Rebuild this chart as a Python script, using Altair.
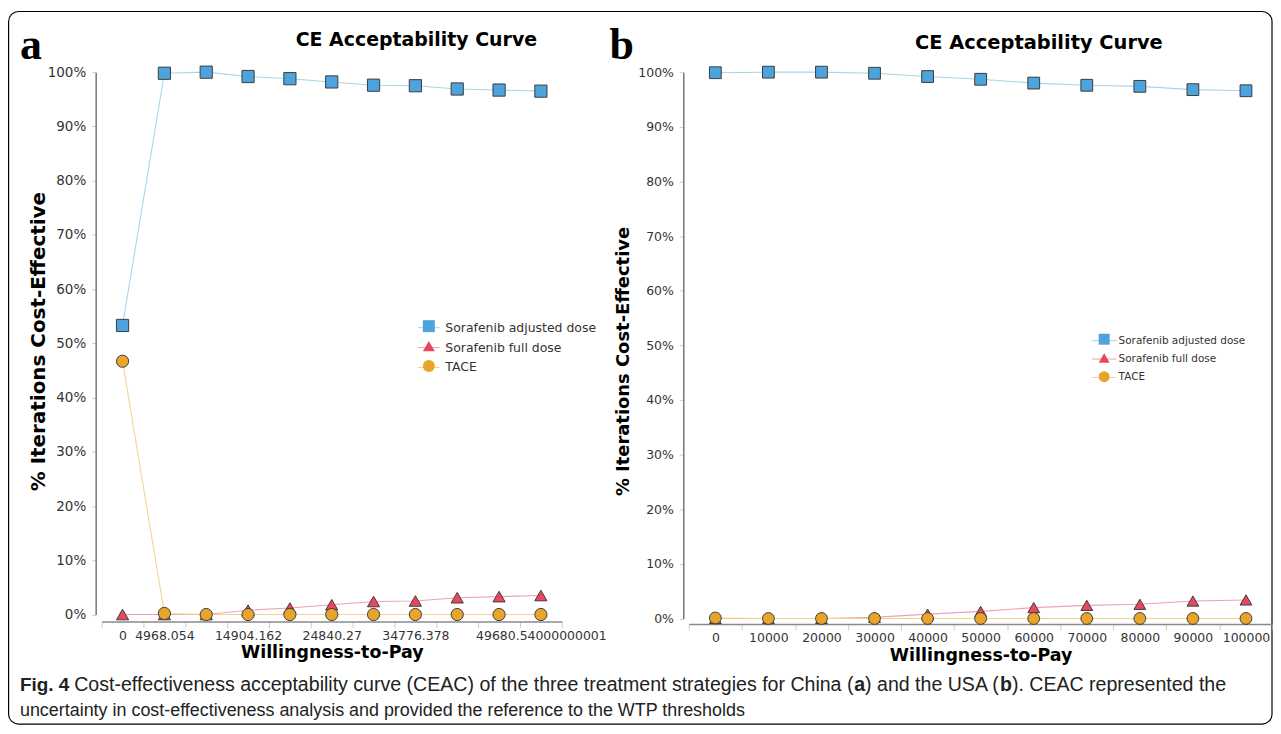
import json
import altair as alt
import pandas as pd

# ---------------- data ----------------
SERIES = ["Sorafenib adjusted dose", "Sorafenib full dose", "TACE"]
SHAPES = ["square", "triangle-up", "circle"]
FILL_COLORS = ["#4DA3DC", "#E8475E", "#E9A52B"]
LINE_COLORS = ["#A8D5E6", "#EFA3B3", "#EFD58C"]
MARKER_STROKE = "#3C3C3C"

# Panel a (China)
WTP_A = ["0", "4968.054", "9936.108", "14904.162", "19872.216", "24840.27",
         "29808.324", "34776.378", "39744.432", "44712.486", "49680.54000000001"]
WTP_A_SHOWN = ["0", "4968.054", "14904.162", "24840.27", "34776.378", "49680.54000000001"]
ADJ_A = [53.3, 99.8, 100.0, 99.2, 98.8, 98.2, 97.6, 97.5, 96.9, 96.7, 96.5]
FULL_A = [0.0, 0.0, 0.0, 0.8, 1.2, 1.8, 2.4, 2.5, 3.1, 3.3, 3.5]
TACE_A = [46.7, 0.2, 0.0, 0.0, 0.0, 0.0, 0.0, 0.0, 0.0, 0.0, 0.0]

# Panel b (USA)
WTP_B = ["0", "10000", "20000", "30000", "40000", "50000",
         "60000", "70000", "80000", "90000", "100000"]
WTP_B_SHOWN = WTP_B
ADJ_B = [99.9, 100.0, 100.0, 99.8, 99.2, 98.7, 98.0, 97.6, 97.4, 96.8, 96.6]
FULL_B = [0.0, 0.0, 0.0, 0.2, 0.8, 1.3, 2.0, 2.4, 2.6, 3.2, 3.4]
TACE_B = [0.1, 0.0, 0.0, 0.0, 0.0, 0.0, 0.0, 0.0, 0.0, 0.0, 0.0]

Y_TICKS = [0, 10, 20, 30, 40, 50, 60, 70, 80, 90, 100]

TITLE = "CE Acceptability Curve"
X_TITLE = "Willingness-to-Pay"
Y_TITLE = "% Iterations Cost-Effective"
CAPTION_BOLD = "Fig. 4"
# first caption line, in pieces (regular / bold / regular / bold / regular)
CAPTION_1_PARTS = [
    ("Cost-effectiveness acceptability curve (CEAC) of the three treatment strategies for China (", "normal"),
    ("a", "bold"),
    (") and the USA (", "normal"),
    ("b", "bold"),
    ("). CEAC represented the", "normal"),
]
# advance (in em, Liberation Sans metrics) at which each piece starts
CAPTION_1_EM = [0.0, 39.848, 40.404, 47.296, 47.907]
CAPTION_2 = "uncertainty in cost-effectiveness analysis and provided the reference to the WTP thresholds"

SANS = "DejaVu Sans"
CAP_FONT = "Liberation Sans"

# the line legend uses its own (space-suffixed) names so that it stays a separate legend
LINE_SERIES = [s + " " for s in SERIES]


def make_df(wtp, adj, full, tace):
    rows = []
    for s, ls, vals in zip(SERIES, LINE_SERIES, [adj, full, tace]):
        for w, v in zip(wtp, vals):
            rows.append({"wtp": w, "pct": v, "series": s, "line_series": ls})
    return pd.DataFrame(rows)


def one_row():
    return pd.DataFrame([{"k": 0}])


def text_layer(txt, x, y, size, font=SANS, weight="normal", align="left", color="#000000"):
    return alt.Chart(one_row()).mark_text(
        font=font, fontSize=size, fontWeight=weight, align=align,
        baseline="alphabetic", color=color
    ).encode(x=alt.value(x), y=alt.value(y), text=alt.value(txt))


def panel(df, wtp, shown, width, height, p):
    label_expr = "indexof(%s, datum.value) >= 0 ? datum.value : ''" % json.dumps(shown)
    x = alt.X("wtp:O", sort=wtp, bandPosition=0.5,
              scale=alt.Scale(type="band", paddingInner=0, paddingOuter=0),
              axis=alt.Axis(title=X_TITLE, titleFont=SANS, titleFontSize=17.5,
                            titleFontWeight="bold", titleColor="#000000",
                            titlePadding=p["xtitle_pad"],
                            labelAngle=0, labelFont=SANS, labelFontSize=12.5,
                            labelColor="#333333", labelOverlap=False, labelExpr=label_expr,
                            labelPadding=2, tickBand="extent", tickColor="#CCCCCC",
                            tickSize=6, domainColor="#8A8A8A", domainWidth=1.5,
                            offset=p["xoffset"], grid=False))
    y = alt.Y("pct:Q", scale=alt.Scale(domain=[0, 100], nice=False, zero=True),
              axis=alt.Axis(title=Y_TITLE, titleFont=SANS, titleFontSize=p["ytitle_size"],
                            titleFontWeight="bold", titleColor="#000000",
                            titlePadding=p["ytitle_pad"], titleY=p["ytitle_y"], values=Y_TICKS,
                            labelExpr="datum.value + '%'", labelFont=SANS,
                            labelFontSize=p["ylab_size"], labelColor="#333333", labelPadding=6,
                            tickSize=4, tickColor="#CCCCCC", domainColor="#555555",
                            domainWidth=1.2, offset=p["yoffset"], grid=False))
    half = p["line_half"]
    stroke_legend = alt.Legend(title=None, orient="none", legendX=p["legx"], legendY=p["legy"],
                               padding=0, symbolType="M-%s,0H%s" % (half, half),
                               symbolSize=p["symsize"], symbolStrokeWidth=1,
                               labelFont=SANS, labelFontSize=p["legfont"], labelColor="#333333",
                               labelOffset=p["laboff"], rowPadding=p["rowpad"])
    point_legend = alt.Legend(title=None, orient="none", legendX=p["legx"],
                              legendY=p["legy"] + p["pleg_dy"],
                              padding=0, symbolSize=p["symsize"], symbolStrokeWidth=1,
                              symbolStrokeColor=MARKER_STROKE, labelExpr="''",
                              labelFont=SANS, labelFontSize=p["legfont"],
                              labelOffset=p["laboff"], rowPadding=p["prowpad"])
    base = alt.Chart(df)
    lines = base.mark_line(strokeWidth=1.1).encode(
        x=x, y=y,
        stroke=alt.Stroke("line_series:N", scale=alt.Scale(domain=LINE_SERIES, range=LINE_COLORS),
                          legend=stroke_legend),
    )
    points = base.mark_point(filled=True, size=p["msize"], opacity=1, strokeWidth=1).encode(
        x=x, y=y,
        fill=alt.Fill("series:N", scale=alt.Scale(domain=SERIES, range=FILL_COLORS),
                      legend=point_legend),
        shape=alt.Shape("series:N", scale=alt.Scale(domain=SERIES, range=SHAPES),
                        legend=point_legend),
        stroke=alt.value(MARKER_STROKE),
    )
    layers = [lines, points,
              text_layer(TITLE, p["tx"], p["ty"], p["tsize"], weight="bold", align="center"),
              text_layer(p["letter"], p["lx"], p["ly"], 44, font="Liberation Serif", weight="bold")]
    layers += p.get("extra", [])
    return alt.layer(*layers).properties(width=width, height=height)


# decorations of the whole figure (drawn from panel a, coordinates relative to its plot area)
frame = alt.Chart(one_row()).mark_rect(fill="#FFFFFF", fillOpacity=0, stroke="#000000",
                                        strokeWidth=1.2, cornerRadius=10).encode(
    x=alt.value(-93.4), x2=alt.value(1175), y=alt.value(-60.9), y2=alt.value(654.5))
CAP_SIZE_1 = 19.65
CAP_X1 = -27.5
caption_layers = [text_layer(CAPTION_BOLD, -82, 621, 19, font=CAP_FONT, weight="bold",
                             color="#222222")]
for (txt, wt), em in zip(CAPTION_1_PARTS, CAPTION_1_EM):
    caption_layers.append(text_layer(txt, CAP_X1 + em * CAP_SIZE_1, 621, CAP_SIZE_1,
                                     font=CAP_FONT, weight=wt, color="#222222"))
caption_layers.append(text_layer(CAPTION_2, -82, 646, 18, font=CAP_FONT, color="#222222"))

df_a = make_df(WTP_A, ADJ_A, FULL_A, TACE_A)
df_b = make_df(WTP_B, ADJ_B, FULL_B, TACE_B)

pa = panel(df_a, WTP_A, WTP_A_SHOWN, 462, 544.5, dict(
    xtitle_pad=1.5, xoffset=7, yoffset=6, ytitle_pad=-1, ytitle_y=270, ytitle_size=20,
    ylab_size=13.5,
    line_half=1.83, symsize=144, legx=322, legy=250, legfont=12.5, laboff=10, rowpad=7,
    pleg_dy=-1.5, prowpad=4,
    msize=150, tx=316, ty=-26.5, tsize=19, letter="a", lx=-82, ly=-13.5,
    extra=[frame] + caption_layers))

pb = panel(df_b, WTP_B, WTP_B_SHOWN, 586, 548.5, dict(
    xtitle_pad=2.5, xoffset=5.5, yoffset=5.5, ytitle_pad=5, ytitle_y=290, ytitle_size=18,
    ylab_size=12.5,
    line_half=2.27, symsize=121, legx=411, legy=263.5, legfont=10.5, laboff=8.5, rowpad=6.5,
    pleg_dy=-1.4, prowpad=3.8,
    msize=140, tx=351.5, ty=-23.5, tsize=19.5, letter="b", lx=-79.5, ly=-13))

chart = alt.hconcat(pa, pb, spacing=127.5, bounds="flush").resolve_scale(
    x="independent", y="independent", stroke="independent", fill="independent",
    shape="independent").resolve_legend(
    stroke="independent", fill="independent", shape="independent").properties(
    padding={"left": 0, "top": 1, "right": 0, "bottom": 0}).configure_view(strokeWidth=0)

chart.save("out.html", embed_options={"renderer": "svg", "actions": False})
